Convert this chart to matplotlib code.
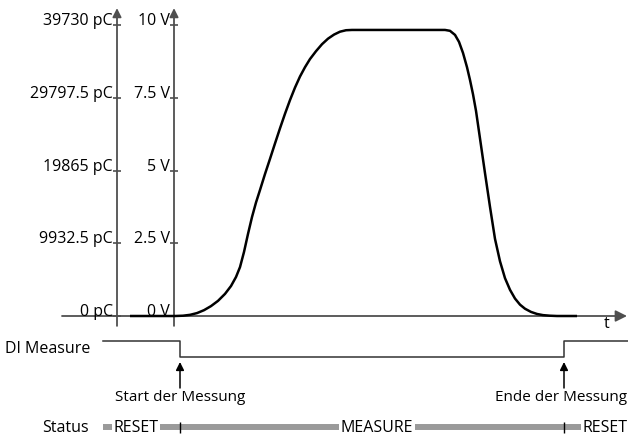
import numpy as np
import matplotlib.pyplot as plt

plt.rcParams['font.family'] = ['Open Sans', 'DejaVu Sans']
plt.rcParams['font.size'] = 11.5

# sensor voltage over time (time in arbitrary units)
curve_t = [130, 175, 183, 190, 197, 204, 211, 218, 225, 231, 236, 240, 244, 248,
           252, 256, 260, 265, 270, 275, 280, 285, 290, 295, 300, 305, 310, 316,
           322, 328, 334, 340, 346, 352, 445, 450, 455, 459, 463, 467, 470, 473,
           476, 480, 485, 490, 495, 500, 505, 510, 515, 520, 525, 531, 537, 543,
           550, 557, 577]
curve_v = [0, 0, 0.01, 0.04, 0.10, 0.20, 0.34, 0.52, 0.76, 1.03, 1.34, 1.68, 2.20, 2.82,
           3.40, 3.90, 4.33, 4.88, 5.40, 5.93, 6.45, 6.95, 7.42, 7.85, 8.23, 8.55, 8.83, 9.10,
           9.34, 9.53, 9.67, 9.77, 9.82, 9.83, 9.83, 9.80, 9.66, 9.42, 9.04, 8.55, 8.11, 7.62,
           7.05, 6.10, 4.91, 3.75, 2.65, 1.88, 1.30, 0.90, 0.60, 0.39, 0.25, 0.14, 0.07, 0.03,
           0.01, 0, 0]

volt_ticks = [0, 2.5, 5, 7.5, 10]
volt_labels = ['0 V', '2.5 V', '5 V', '7.5 V', '10 V']
charge_labels = ['0 pC', '9932.5 pC', '19865 pC', '29797.5 pC', '39730 pC']

t_start = 180
t_end = 564
di_t = [103, t_start, t_start, t_end, t_end, 628]
di_level = [1, 1, 0, 0, 1, 1]

status_names = ['RESET', 'MEASURE', 'RESET']
status_edges = [103, t_start, t_end, 628]

W, H = 628, 436
axis_c = '#4f4f4f'

fig = plt.figure(figsize=(W / 100, H / 100), dpi=100)

# layout axes in pixel units (for the lower timing rows)
ax = fig.add_axes([0, 0, 1, 1])
ax.set_xlim(0, W)
ax.set_ylim(H, 0)
ax.axis('off')

# voltage axes: 0 V at row 316, 10 V at row 25
ax_v = fig.add_axes([0, (H - 316) / H, 1, 291 / H])
ax_v.set_xlim(0, W)
ax_v.set_ylim(0, 10)
ax_v.axis('off')

# DI Measure signal: level 1 at row 341, level 0 at row 357
ax_d = fig.add_axes([0, (H - 357) / H, 1, 16 / H])
ax_d.set_xlim(0, W)
ax_d.set_ylim(0, 1)
ax_d.axis('off')

arrow = dict(arrowstyle='-|>', color=axis_c, lw=1.3, shrinkA=0, shrinkB=0)

# time axis
ax_v.annotate('', xy=(627, 0), xytext=(62, 0),
              arrowprops=dict(arrow, mutation_scale=17), annotation_clip=False)
ax.text(607, 328, 't', ha='center', va='baseline')

# two value axes (charge and voltage)
for xa, labels in [(117, charge_labels), (174, volt_labels)]:
    ax_v.annotate('', xy=(xa, 10.58), xytext=(xa, -0.34),
                  arrowprops=dict(arrow, mutation_scale=13), annotation_clip=False)
    ax_v.hlines(volt_ticks, xa - 4, xa + 4, color=axis_c, lw=1.2, clip_on=False)
    for v, lab in zip(volt_ticks, labels):
        ax_v.text(xa - 4, v, lab, ha='right', va='baseline')

ax_v.plot(curve_t, curve_v, color='black', lw=1.8, clip_on=False,
          solid_joinstyle='round', solid_capstyle='butt', zorder=5)

# DI Measure
ax.text(90, 353, 'DI Measure', ha='right', va='baseline')
ax_d.plot(di_t, di_level, color='#333333', lw=1.1, clip_on=False)

for tx, cx, txt in [(t_start, t_start, 'Start der Messung'),
                    (t_end, t_end - 3, 'Ende der Messung')]:
    ax.annotate('', xy=(tx, 362), xytext=(tx, 388),
                arrowprops=dict(arrowstyle='-|>', color='black', lw=1.1,
                                shrinkA=0, shrinkB=0, mutation_scale=12))
    ax.text(cx, 401, txt, ha='center', va='baseline', fontsize=11)

# Status row
ax.text(89, 432, 'Status', ha='right', va='baseline')
ax.plot([status_edges[0], status_edges[-1]], [427, 427], color='#9a9a9a', lw=4.3,
        solid_capstyle='butt')
ax.vlines(status_edges[1:-1], 422, 433, color='black', lw=1)
status_x = [136, 377, 605]
for x, name in zip(status_x, status_names):
    ax.text(x, 432, name, ha='center', va='baseline',
            bbox=dict(boxstyle='square,pad=0.12', fc='white', ec='none'))

fig.savefig('out.png', dpi=100)
